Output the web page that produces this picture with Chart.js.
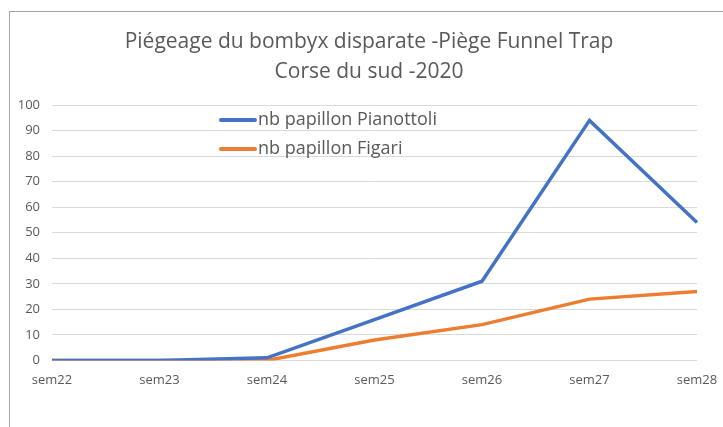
<!DOCTYPE html>
<html>
<head>
<meta charset="utf-8">
<script src="https://cdn.jsdelivr.net/npm/chart.js@4/dist/chart.umd.min.js"></script>
<style>
  html, body { margin: 0; padding: 0; background: #fff; }
  #wrap { position: relative; width: 723px; height: 427px; overflow: hidden; }
  #frame { position: absolute; left: 9px; top: 11px; width: 760px; height: 480px; border: 1px solid #a6a6a6; }
  canvas { position: absolute; left: 0; top: 0; }
</style>
</head>
<body>
<div id="wrap">
  <div id="frame"></div>
  <canvas id="chart" width="723" height="427"></canvas>
</div>
<script>
// Data
const weeks = ['sem22', 'sem23', 'sem24', 'sem25', 'sem26', 'sem27', 'sem28'];
const pianottoli = [0, 0, 1, 16, 31, 94, 54];
const figari = [0, 0, 0, 8, 14, 24, 27];
const titleLines = ['Piégeage du bombyx disparate -Piège Funnel Trap', 'Corse du sud -2020'];

const FONT = "'Open Sans', 'Noto Sans', sans-serif";

// Legend drawn inside the plot area, like the original
const innerLegend = {
    id: 'innerLegend',
    afterDraw(chart) {
        const ctx = chart.ctx;
        const area = chart.chartArea;
        ctx.save();
        ctx.font = '18px ' + FONT;
        ctx.textBaseline = 'middle';
        chart.data.datasets.forEach((ds, i) => {
            const x = area.left + 169;
            const y = area.top + 15 + i * 29;
            ctx.strokeStyle = ds.borderColor;
            ctx.lineWidth = 4;
            ctx.lineCap = 'round';
            ctx.beginPath();
            ctx.moveTo(x, y);
            ctx.lineTo(x + 34, y);
            ctx.stroke();
            ctx.fillStyle = '#595959';
            ctx.fillText(ds.label, x + 37, y);
        });
        ctx.restore();
    }
};

const ctx = document.getElementById('chart').getContext('2d');
new Chart(ctx, {
    type: 'line',
    data: {
        labels: weeks,
        datasets: [{
            label: 'nb papillon Pianottoli',
            data: pianottoli,
            borderColor: '#4472C4',
            borderWidth: 3.5,
            pointRadius: 0,
            tension: 0
        }, {
            label: 'nb papillon Figari',
            data: figari,
            borderColor: '#ED7D31',
            borderWidth: 3.5,
            pointRadius: 0,
            tension: 0
        }]
    },
    options: {
        responsive: false,
        animation: false,
        layout: {
            padding: { left: 15, right: 0, top: 0, bottom: 27 }
        },
        plugins: {
            legend: { display: false },
            tooltip: { enabled: false },
            title: {
                display: true,
                text: titleLines,
                color: '#595959',
                font: { family: FONT, size: 21, weight: 'normal', lineHeight: 1.43 },
                padding: { top: 27, bottom: 18 }
            }
        },
        scales: {
            x: {
                offset: false,
                grid: { display: false, drawTicks: false },
                border: { display: false },
                ticks: {
                    color: '#595959',
                    font: { family: FONT, size: 13 },
                    padding: 12,
                    maxRotation: 0
                },
                afterFit(scale) {
                    scale.paddingLeft = 0;
                    scale.paddingRight = 26;
                }
            },
            y: {
                min: 0,
                max: 100,
                grid: { color: '#d9d9d9', lineWidth: 1, drawTicks: false },
                border: { display: false },
                ticks: {
                    stepSize: 10,
                    color: '#595959',
                    font: { family: FONT, size: 13 },
                    padding: 12
                },
                afterFit(scale) { scale.width = 37; }
            }
        }
    },
    plugins: [innerLegend]
});
</script>
</body>
</html>
